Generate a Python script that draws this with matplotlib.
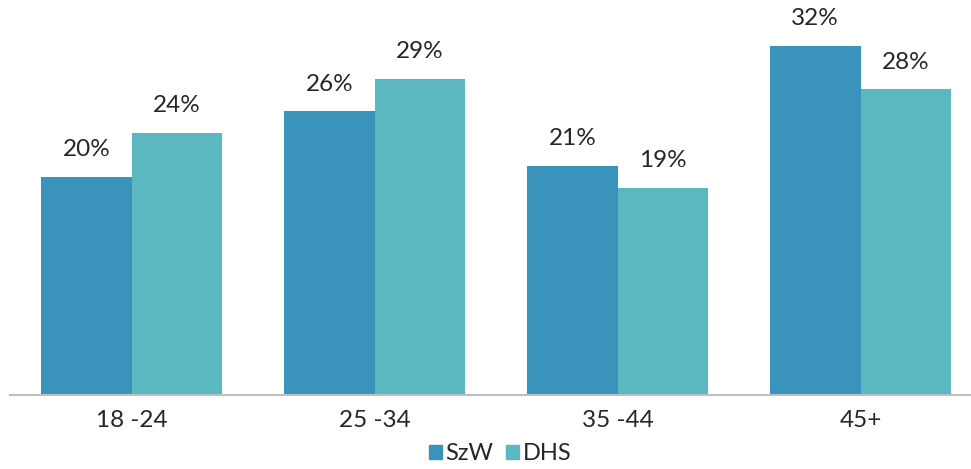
import matplotlib
matplotlib.use("Agg")
import matplotlib.pyplot as plt
import numpy as np
from matplotlib.patches import Patch

categories = ["18 -24", "25 -34", "35 -44", "45+"]
szw = [20, 26, 21, 32]
dhs = [24, 29, 19, 28]
series_names = ["SzW", "DHS"]
colors = ["#3A93BA", "#5BB7C0"]

plt.rcParams["font.family"] = ["Lato", "DejaVu Sans"]

fig = plt.figure(figsize=(9.71, 4.69), dpi=100)
ax = fig.add_axes([10 / 971, (469 - 395) / 469, 961 / 971, 395 / 469])

x = np.arange(len(categories))
w = 0.372
b1 = ax.bar(x - w / 2, szw, w, color=colors[0])
b2 = ax.bar(x + w / 2, dhs, w, color=colors[1])

for bars, vals in ((b1, szw), (b2, dhs)):
    for bar, v in zip(bars, vals):
        ax.annotate(f"{v}%", (bar.get_x() + bar.get_width() / 2, v),
                    xytext=(0, 12), textcoords="offset points",
                    ha="center", va="bottom", fontsize=17.5, color="#262626")

ax.set_xlim(-0.5, -0.5 + 961 / 243)
ax.set_ylim(0, 36.2)
ax.set_yticks([])
ax.set_xticks(x)
ax.set_xticklabels(categories, fontsize=17.5, color="#262626")
ax.tick_params(axis="x", length=0, pad=11)
for s in ("top", "right", "left"):
    ax.spines[s].set_visible(False)
ax.spines["bottom"].set_color("#BFBFBF")
ax.spines["bottom"].set_linewidth(1.5)

handles = [Patch(color=c) for c in colors]
fig.legend(handles, series_names, loc="lower center", bbox_to_anchor=(0.515, -0.035),
           ncol=2, frameon=False, fontsize=17, handlelength=0.55, handleheight=0.55,
           handletextpad=0.15, columnspacing=0.55, labelcolor="#262626")

fig.savefig("out.png", dpi=100)
